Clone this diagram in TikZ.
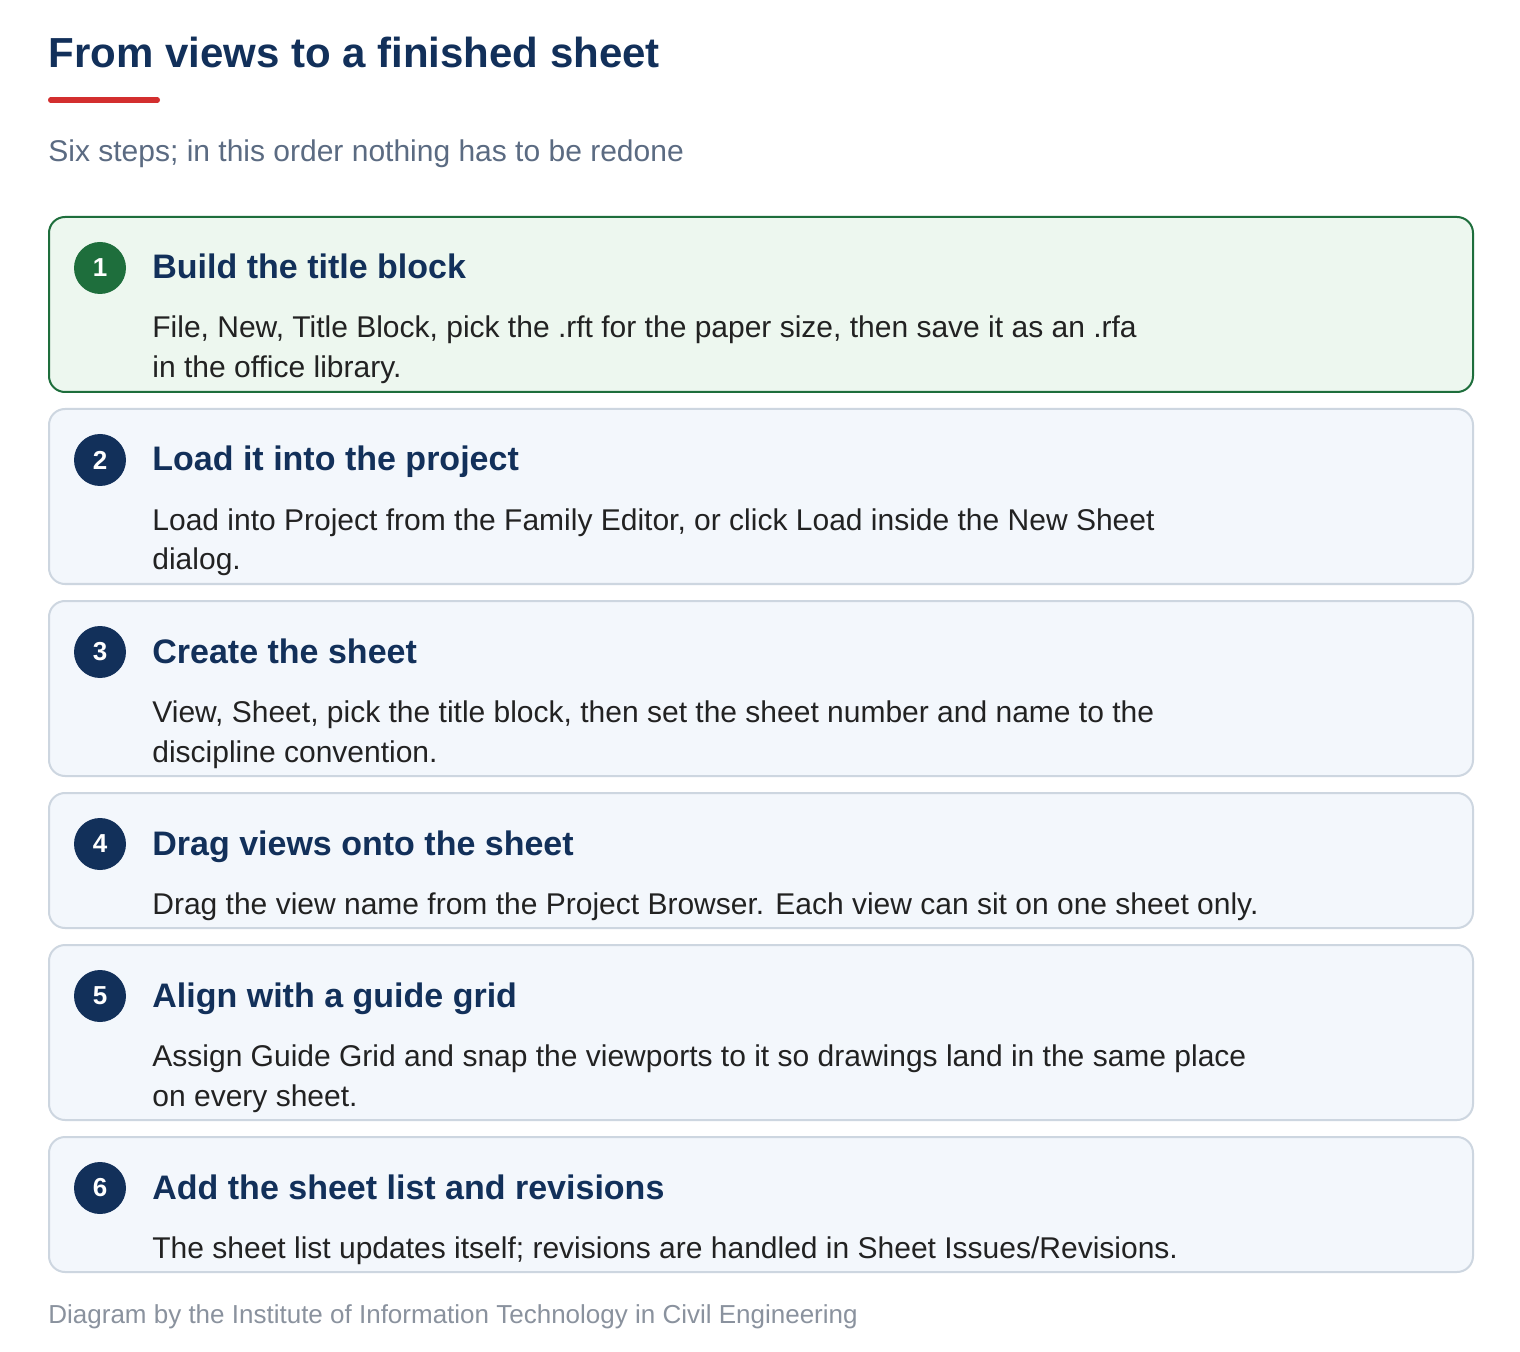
\documentclass[tikz,border=0pt]{standalone}
\usepackage{fontspec}
\setmainfont{Liberation Sans}
\usepackage{xcolor}
\usetikzlibrary{positioning}
\definecolor{navycolor}{HTML}{12305A}
\definecolor{redcolor}{HTML}{D32F2F}
\definecolor{subcolor}{HTML}{5B6B82}
\definecolor{bodycolor}{HTML}{222222}
\definecolor{footcolor}{HTML}{8A929E}
\definecolor{cardfill}{HTML}{F3F7FC}
\definecolor{cardline}{HTML}{CDD6E0}
\definecolor{donefill}{HTML}{EDF7EF}
\definecolor{doneline}{HTML}{1E6E3C}

\begin{document}
\begin{tikzpicture}[
    x=0.5pt, y=-0.5pt,
    title/.style={anchor=base west, inner sep=0, font=\fontsize{21}{25}\selectfont\bfseries, text=navycolor},
    subtitle/.style={anchor=base west, inner sep=0, font=\fontsize{15}{18}\selectfont, text=subcolor},
    footer/.style={anchor=base west, inner sep=0, font=\fontsize{13}{16}\selectfont, text=footcolor},
    card/.style={draw=cardline, fill=cardfill, line width=1pt, rounded corners=8pt, anchor=north west, minimum width=712pt, inner sep=0},
    donecard/.style={card, draw=doneline, fill=donefill},
    num/.style={circle, fill=navycolor, text=white, minimum size=26pt, inner sep=0, font=\fontsize{13}{15}\selectfont\bfseries},
    donenum/.style={num, fill=doneline},
    head/.style={anchor=base west, inner sep=0, font=\fontsize{17}{20}\selectfont\bfseries, text=navycolor},
    % base of a two-line body is its last line
    body/.style={anchor=base west, inner sep=0, align=left, font=\fontsize{15}{20}\selectfont, text=bodycolor},
    redbar/.style={redcolor, line width=2.75pt, line cap=round}
]
    \useasboundingbox[fill=white] (0,0) rectangle (1520,1352);

    % Header
    \node[title] (title) at (48,68) {From views to a finished sheet};
    \draw[redbar] (50.75,100) -- (157.25,100);
    \node[subtitle] (subtitle) at (48,162) {Six steps; in this order nothing has to be redone};

    % Step 1
    \node[donecard, minimum height=87.5pt] (card1) at (48,216) {};
    \node[donenum] (num1) at (100,268) {1};
    \node[head] (head1) at (152,279) {Build the title block};
    \node[body] (body1) at (152,378) {File, New, Title Block, pick the .rft for the paper size, then save it as an .rfa\\in the office library.};

    % Step 2
    \node[card, minimum height=87.5pt] (card2) at (48,408) {};
    \node[num] (num2) at (100,460) {2};
    \node[head] (head2) at (152,471) {Load it into the project};
    \node[body] (body2) at (152,570) {Load into Project from the Family Editor, or click Load inside the New Sheet\\dialog.};

    % Step 3
    \node[card, minimum height=87.5pt] (card3) at (48,600) {};
    \node[num] (num3) at (100,652) {3};
    \node[head] (head3) at (152,663) {Create the sheet};
    \node[body] (body3) at (152,762) {View, Sheet, pick the title block, then set the sheet number and name to the\\discipline convention.};

    % Step 4
    \node[card, minimum height=67.5pt] (card4) at (48,792) {};
    \node[num] (num4) at (100,844) {4};
    \node[head] (head4) at (152,855) {Drag views onto the sheet};
    \node[body] (body4) at (152,914) {Drag the view name from the Project Browser. Each view can sit on one sheet only.};

    % Step 5
    \node[card, minimum height=87.5pt] (card5) at (48,944) {};
    \node[num] (num5) at (100,996) {5};
    \node[head] (head5) at (152,1007) {Align with a guide grid};
    \node[body] (body5) at (152,1106) {Assign Guide Grid and snap the viewports to it so drawings land in the same place\\on every sheet.};

    % Step 6
    \node[card, minimum height=67.5pt] (card6) at (48,1136) {};
    \node[num] (num6) at (100,1188) {6};
    \node[head] (head6) at (152,1199) {Add the sheet list and revisions};
    \node[body] (body6) at (152,1258) {The sheet list updates itself; revisions are handled in Sheet Issues/Revisions.};

    % Footer
    \node[footer] (footer) at (48,1323) {Diagram by the Institute of Information Technology in Civil Engineering};
\end{tikzpicture}
\end{document}
